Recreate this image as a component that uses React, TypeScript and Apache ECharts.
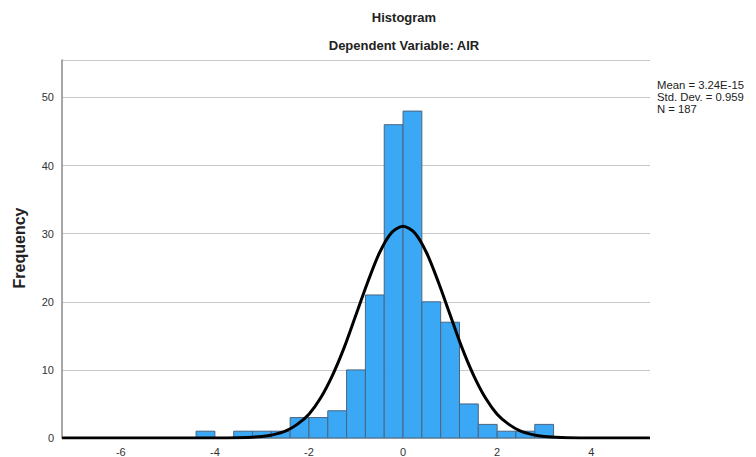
import React, { useEffect, useRef } from "react";
import * as echarts from "echarts";

const binStarts = [-4.4, -4.0, -3.6, -3.2, -2.8, -2.4, -2.0, -1.6, -1.2, -0.8, -0.4, 0.0, 0.4, 0.8, 1.2, 1.6, 2.0, 2.4, 2.8];
const binCounts = [1, 0, 1, 1, 1, 3, 3, 4, 10, 21, 46, 48, 20, 17, 5, 2, 1, 1, 2];
const binWidth = 0.4;

const curveX = [-7.25, -4.5, -4, -3.5, -3, -2.75, -2.5, -2.25, -2, -1.75, -1.5, -1.25, -1, -0.75, -0.5, -0.25, 0, 0.25, 0.5, 0.75, 1, 1.25, 1.5, 1.75, 2, 2.25, 2.5, 2.75, 3, 3.5, 4, 4.5, 5.25];
const curveY = [0, 0, 0.01, 0.04, 0.23, 0.5, 1.0, 2.0, 3.5, 5.9, 9.2, 13.3, 18.1, 22.9, 27.2, 30.1, 31.1, 30.1, 27.2, 22.9, 18.1, 13.3, 9.2, 5.9, 3.5, 2.0, 1.0, 0.5, 0.23, 0.04, 0.01, 0, 0];

const xTicks = [-6, -4, -2, 0, 2, 4];
const statsLines = ["Mean = 3.24E-15", "Std. Dev. = 0.959", "N = 187"];

const FONT = "Liberation Sans";

export default function App() {
  const ref = useRef<HTMLDivElement>(null);
  useEffect(() => {
    if (!ref.current) return;
    const chart = echarts.init(ref.current, undefined, { renderer: "svg" });
    const bins = binStarts.map((s, i) => [s, s + binWidth, binCounts[i]]);
    const curve = curveX.map((x, i) => [x, curveY[i]]);
    const statsTexts = statsLines.map((t, i) => ({
      type: "text",
      x: 657,
      y: 85 + i * 11.8,
      style: { text: t, font: `11.3px ${FONT}`, fill: "#222", textAlign: "left", textVerticalAlign: "middle" },
    }));
    chart.setOption({
      animation: false,
      textStyle: { fontFamily: FONT },
      grid: { left: 62, right: 106, top: 60, bottom: 19, containLabel: false },
      graphic: [
        { type: "text", x: 404, y: 17, style: { text: "Histogram", font: `bold 13px ${FONT}`, fill: "#222", textAlign: "center", textVerticalAlign: "middle" } },
        { type: "text", x: 404, y: 45, style: { text: "Dependent Variable: AIR", font: `bold 13px ${FONT}`, fill: "#222", textAlign: "center", textVerticalAlign: "middle" } },
        ...statsTexts,
        { type: "text", x: 19, y: 248, rotation: Math.PI / 2, style: { text: "Frequency", font: `bold 16px ${FONT}`, fill: "#222", textAlign: "center", textVerticalAlign: "middle" } },
      ],
      xAxis: {
        type: "value",
        min: -7.25,
        max: 5.25,
        axisLine: { show: false },
        axisTick: { show: false },
        splitLine: { show: false },
        axisLabel: { customValues: xTicks, color: "#333", fontSize: 11, margin: 8 },
      },
      yAxis: {
        type: "value",
        min: 0,
        max: 55.5,
        interval: 10,
        axisLine: { show: true, onZero: false, lineStyle: { color: "#8a8a8a", width: 1.5 } },
        axisTick: { show: false },
        splitLine: { show: true, lineStyle: { color: "#c8c8c8", width: 1 } },
        axisLabel: { color: "#333", fontSize: 11, margin: 8, showMaxLabel: false },
      },
      series: [
        {
          type: "custom",
          data: bins,
          encode: { x: [0, 1], y: 2 },
          renderItem: (params: any, api: any) => {
            const p0 = api.coord([api.value(0), api.value(2)]);
            const p1 = api.coord([api.value(1), 0]);
            return {
              type: "rect",
              shape: { x: p0[0], y: p0[1], width: p1[0] - p0[0], height: p1[1] - p0[1] },
              style: { fill: "#3ba8f5", stroke: "#4a6580", lineWidth: 1 },
            };
          },
          z: 2,
        },
        {
          type: "line",
          data: curve,
          smooth: 0.3,
          showSymbol: false,
          symbol: "none",
          lineStyle: { color: "#000", width: 3 },
          z: 5,
        },
      ],
    });
    return () => chart.dispose();
  }, []);
  return <div ref={ref} style={{ width: 756, height: 457, position: "absolute", left: 0, top: 0 }} />;
}
